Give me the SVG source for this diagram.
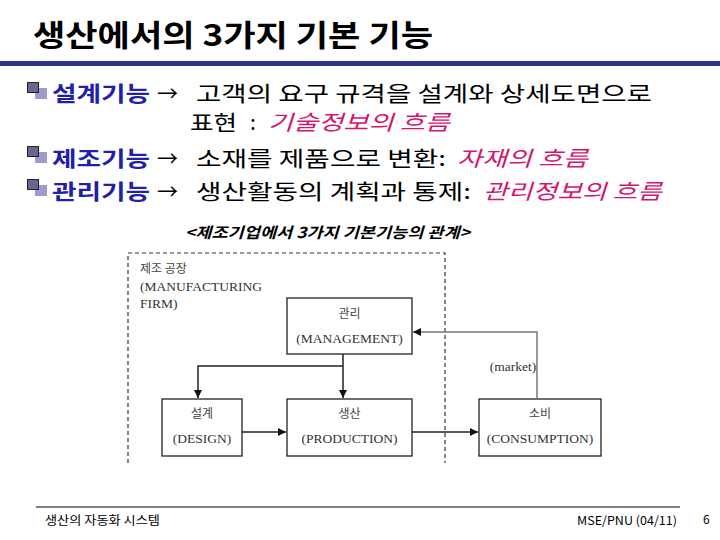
<svg xmlns="http://www.w3.org/2000/svg" width="720" height="540" viewBox="0 0 720 540">
<style>
.title{font-family:"Noto Sans CJK KR","Liberation Sans",sans-serif;font-size:30px;font-weight:bold;fill:#000}
.b{font-family:"Noto Sans CJK KR","Liberation Sans",sans-serif;font-size:21px;font-weight:bold;fill:#2020a8}
.t{font-family:"Noto Sans CJK KR","Liberation Sans",sans-serif;font-size:21px;fill:#000}
.m{font-family:"Noto Sans CJK KR","Liberation Sans",sans-serif;font-size:21px;font-style:italic;fill:#d4166e}
.cap{font-family:"Noto Sans CJK KR","Liberation Sans",sans-serif;font-size:15px;font-style:italic;font-weight:bold;fill:#000}
.d{font-family:"Liberation Serif","Noto Sans CJK KR",serif;font-size:13.5px;fill:#333}
.dk{font-family:"Noto Sans CJK KR","Liberation Serif",serif;font-size:12px;fill:#444}
.box{fill:#fff;stroke:#222;stroke-width:1.3}
.ln{fill:none;stroke:#222;stroke-width:1.5}
.f{font-family:"Noto Sans CJK KR","Liberation Sans",sans-serif;font-size:12px;fill:#000}
.bd{fill:#66668f;stroke:#222;stroke-width:1}
.bl{fill:#9c9cd0}
</style>
<defs>
<marker id="ah" viewBox="0 0 10 10" refX="10" refY="5" markerWidth="8" markerHeight="8" markerUnits="userSpaceOnUse" orient="auto">
<path d="M0,0 L10,5 L0,10 z" fill="#111"/>
</marker>
</defs>
<rect width="720" height="540" fill="#fff"/>
<g id="title">
<text class="title" x="33" y="46" textLength="400" lengthAdjust="spacingAndGlyphs">생산에서의 3가지 기본 기능</text>
<rect x="0" y="61" width="720" height="5" fill="#2f3487"/>
</g>
<g id="bullets">
<rect class="bl" x="35" y="88" width="12" height="11"/>
<rect class="bd" x="27.5" y="82.5" width="11" height="10"/>
<rect class="bl" x="35" y="152" width="12" height="11"/>
<rect class="bd" x="27.5" y="146.5" width="11" height="10"/>
<rect class="bl" x="35" y="185" width="12" height="11"/>
<rect class="bd" x="27.5" y="179.5" width="11" height="10"/>
</g>
<g id="row1">
<text class="b" x="52" y="101" textLength="98" lengthAdjust="spacingAndGlyphs">설계기능</text>
<text class="t" x="157" y="101">→</text>
<text class="t" x="196" y="101" textLength="456" lengthAdjust="spacingAndGlyphs">고객의 요구 규격을 설계와 상세도면으로</text>
</g>
<g id="row2">
<text class="t" x="190" y="130" textLength="47" lengthAdjust="spacingAndGlyphs">표현</text>
<text class="t" x="250" y="130">:</text>
<text class="m" x="268" y="130" textLength="182" lengthAdjust="spacingAndGlyphs">기술정보의 흐름</text>
</g>
<g id="row3">
<text class="b" x="52" y="166" textLength="98" lengthAdjust="spacingAndGlyphs">제조기능</text>
<text class="t" x="157" y="166">→</text>
<text class="t" x="196" y="166" textLength="250" lengthAdjust="spacingAndGlyphs">소재를 제품으로 변환:</text>
<text class="m" x="457" y="166" textLength="131" lengthAdjust="spacingAndGlyphs">자재의 흐름</text>
</g>
<g id="row4">
<text class="b" x="52" y="199" textLength="98" lengthAdjust="spacingAndGlyphs">관리기능</text>
<text class="t" x="157" y="199">→</text>
<text class="t" x="196" y="199" textLength="275" lengthAdjust="spacingAndGlyphs">생산활동의 계획과 통제:</text>
<text class="m" x="483" y="199" textLength="179" lengthAdjust="spacingAndGlyphs">관리정보의 흐름</text>
</g>
<g id="caption">
<text class="cap" x="185" y="238" textLength="285" lengthAdjust="spacingAndGlyphs">&lt;제조기업에서 3가지 기본기능의 관계&gt;</text>
</g>
<g id="firm">
<path d="M128,463 V253 H445 V463" fill="none" stroke="#333" stroke-width="1.2" stroke-dasharray="4,3"/>
<text class="dk" x="140" y="273">제조 공장</text>
<text class="d" x="140" y="291">(MANUFACTURING</text>
<text class="d" x="140" y="308">FIRM)</text>
</g>
<g id="management">
<rect class="box" x="287" y="298" width="125" height="56"/>
<text class="dk" x="349.5" y="318" text-anchor="middle">관리</text>
<text class="d" x="349.5" y="343" text-anchor="middle">(MANAGEMENT)</text>
</g>
<g id="design">
<rect class="box" x="162" y="399" width="80" height="57"/>
<text class="dk" x="202" y="418" text-anchor="middle">설계</text>
<text class="d" x="202" y="443" text-anchor="middle">(DESIGN)</text>
</g>
<g id="production">
<rect class="box" x="287" y="399" width="125" height="57"/>
<text class="dk" x="349.5" y="418" text-anchor="middle">생산</text>
<text class="d" x="349.5" y="443" text-anchor="middle">(PRODUCTION)</text>
</g>
<g id="consumption">
<rect class="box" x="479" y="399" width="122" height="57"/>
<text class="dk" x="540" y="418" text-anchor="middle">소비</text>
<text class="d" x="540" y="443" text-anchor="middle">(CONSUMPTION)</text>
</g>
<g id="connectors">
<path class="ln" d="M343,354 V398" marker-end="url(#ah)"/>
<path class="ln" d="M343,366 H198 V398" marker-end="url(#ah)"/>
<path class="ln" d="M242,432 H286" marker-end="url(#ah)"/>
<path class="ln" d="M412,432 H478" marker-end="url(#ah)"/>
<path d="M537,399 V332 H413" fill="none" stroke="#777" stroke-width="1.5" marker-end="url(#ah)"/>
<text class="d" x="513" y="371" text-anchor="middle">(market)</text>
</g>
<g id="footer">
<line x1="36" y1="507" x2="680" y2="507" stroke="#000" stroke-width="1"/>
<text class="f" x="45" y="525" textLength="115" lengthAdjust="spacingAndGlyphs">생산의 자동화 시스템</text>
<text class="f" x="577" y="525" textLength="100" lengthAdjust="spacingAndGlyphs">MSE/PNU (04/11)</text>
<text class="f" x="703" y="524" font-size="13">6</text>
</g>
</svg>
